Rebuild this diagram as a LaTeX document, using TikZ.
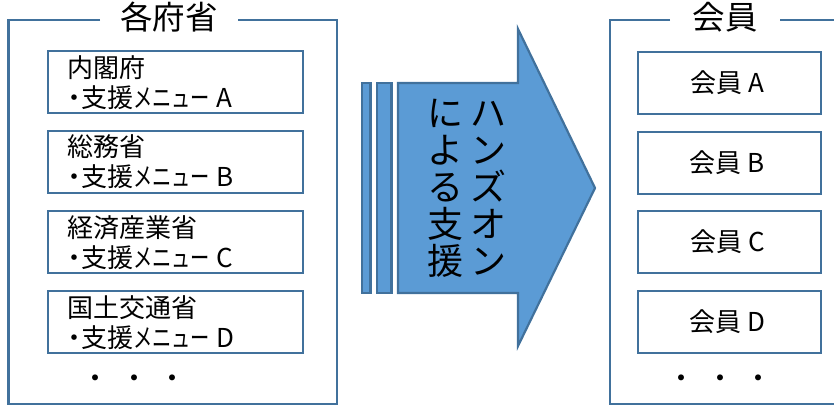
\documentclass[tikz,border=0pt]{standalone}
\usepackage{fontspec}
\setmainfont{Noto Sans CJK JP}
\definecolor{frameblue}{HTML}{41719C}
\definecolor{arrowfill}{HTML}{5B9BD5}
\newcommand{\dotbul}{\makebox[14pt][c]{・}}
\newcommand{\menu}[1]{\dotbul 支援\scalebox{0.74}[1]{メニュー}\hspace{6pt}#1}
\newcommand{\memb}[1]{\raisebox{-1.5pt}{会員\hspace{6pt}#1\hspace*{4pt}}}
\tikzset{
 frame/.style={draw=frameblue,line width=2.4pt},
 itembox/.style={draw=frameblue,line width=2.4pt,fill=white,outer sep=0pt,minimum width=255pt,minimum height=62pt,inner sep=0pt,anchor=north west},
 memberbox/.style={draw=frameblue,line width=2.4pt,fill=white,outer sep=0pt,minimum width=183pt,minimum height=62pt,inner sep=0pt,anchor=north west,font=\fontsize{26}{30}\selectfont},
 lbl/.style={font=\fontsize{32.5}{36}\selectfont,inner sep=0pt,anchor=center},
 itemtxt/.style={font=\fontsize{26}{30.5}\selectfont,align=left,anchor=west,inner sep=0pt},
 dotsrow/.style={font=\fontsize{28}{30}\selectfont,inner sep=0pt},
 bar/.style={draw=frameblue,fill=arrowfill,line width=2.2pt},
 vtxt/.style={font=\fontsize{36}{37}\selectfont,inner sep=0pt,anchor=center,align=center},
}
\begin{document}
\begin{tikzpicture}[x=1pt,y=-1pt]
\useasboundingbox (0,0) rectangle (834,405);
\draw[frame] (100,20) -- (8.5,20) -- (8.5,404) -- (337,404) -- (337,20) -- (238,20);
\node[lbl] (t1) at (169,17) {各府省};
\node[itembox] (a) at (48,51) {};
\node[itembox] (b) at (48,131) {};
\node[itembox] (c) at (48,211) {};
\node[itembox] (d) at (48,291) {};
\node[itemtxt] (ta) at (67,82.5) {内閣府\\\menu{A}};
\node[itemtxt] (tb) at (67,161.5) {総務省\\\menu{B}};
\node[itemtxt] (tc) at (67,242.5) {経済産業省\\\menu{C}};
\node[itemtxt] (td) at (67,322.5) {国土交通省\\\menu{D}};
\node[dotsrow] (dl) at (134,382) {・\hspace{10.5pt}・\hspace{10.5pt}・};
\draw[bar] (362,83) rectangle (370.5,293);
\draw[bar] (377,83) rectangle (391.5,293);
\draw[bar] (398,83) -- (518,83) -- (518,29) -- (595,188) -- (518,346) -- (518,293) -- (398,293) -- cycle;
\node[vtxt] (v1) at (488,188) {ハ\\ン\\ズ\\オ\\ン};
\node[vtxt] (v2) at (445,188) {に\\よ\\る\\支\\援};
\draw[frame] (670,20) -- (610,20) -- (610,404) -- (834,404);
\draw[frame] (780,20) -- (834,20);
\node[lbl] (t2) at (725,17) {会員};
\node[memberbox] (ma) at (638,52) {\memb{A}};
\node[memberbox] (mb) at (638,132) {\memb{B}};
\node[memberbox] (mc) at (638,211) {\memb{C}};
\node[memberbox] (md) at (638,291) {\memb{D}};
\node[dotsrow] (dr) at (720,382) {・\hspace{10.5pt}・\hspace{10.5pt}・};
\end{tikzpicture}
\end{document}
